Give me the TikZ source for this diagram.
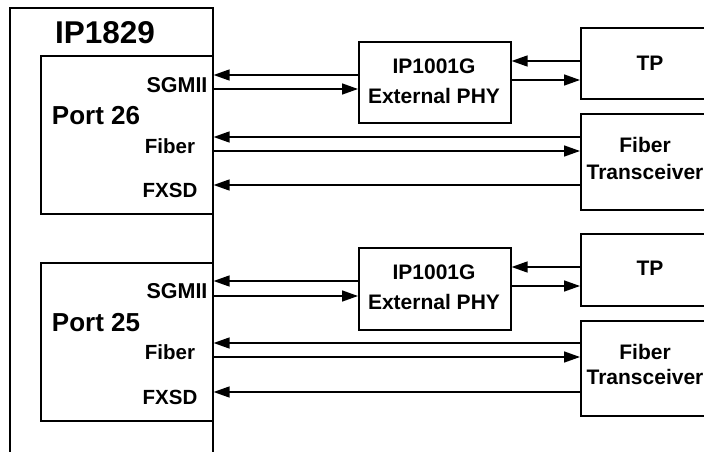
\documentclass[tikz,border=0pt]{standalone}
\usepackage{fontspec}
\setmainfont{Liberation Sans}
\usetikzlibrary{arrows.meta}
\begin{document}
\begin{tikzpicture}[x=1pt,y=-1pt,
  box/.style={draw, line width=1.6pt, inner sep=0pt, anchor=north west},
  arr/.style={line width=1.5pt, -{Triangle[length=16pt,width=11pt]}},
  lbl/.style={font=\fontsize{20.5}{22}\selectfont\bfseries, inner sep=0pt},
  rlbl/.style={font=\fontsize{21}{30}\selectfont\bfseries, inner sep=0pt, align=center},
  portlbl/.style={font=\fontsize{26}{30}\selectfont\bfseries, inner sep=0pt},
  titlelbl/.style={font=\fontsize{31.5}{36}\selectfont\bfseries, inner sep=0pt}]
\useasboundingbox (0,0) rectangle (704,452);
\clip (0,0) rectangle (704,452);
% main chip
\node[box, minimum width=203pt, minimum height=470pt] (ip) at (9,7) {};
\node[titlelbl] (iptxt) at (105,33) {IP1829};
% ports
\node[box, minimum width=172pt, minimum height=158pt] (p26) at (40,55) {};
\node[box, minimum width=172pt, minimum height=158pt] (p25) at (40,262) {};
\node[portlbl] (p26txt) at (96,116) {Port 26};
\node[portlbl] (p25txt) at (96,323) {Port 25};
\node[lbl, font=\fontsize{21.5}{22}\selectfont\bfseries] (sg1) at (177,85) {SGMII};
\node[lbl] (fb1) at (170,146) {Fiber};
\node[lbl] (fs1) at (170,190) {FXSD};
\node[lbl, font=\fontsize{21.5}{22}\selectfont\bfseries] (sg2) at (177,291) {SGMII};
\node[lbl] (fb2) at (170,352) {Fiber};
\node[lbl] (fs2) at (170,397) {FXSD};
% PHYs
\node[box, minimum width=152pt, minimum height=81pt] (phy1) at (358,41) {};
\node[box, minimum width=152pt, minimum height=82pt] (phy2) at (358,247) {};
\node[rlbl] (phy1txt) at (434,81) {IP1001G\\External PHY};
\node[rlbl] (phy2txt) at (434,287.5) {IP1001G\\External PHY};
% TP
\node[box, minimum width=140pt, minimum height=71pt] (tp1) at (580,27) {};
\node[box, minimum width=140pt, minimum height=72pt] (tp2) at (580,233) {};
\node[rlbl] (tp1txt) at (650,63) {TP};
\node[rlbl] (tp2txt) at (650,268) {TP};
% Fiber transceivers
\node[box, minimum width=140pt, minimum height=96pt] (fx1) at (580,113) {};
\node[box, minimum width=140pt, minimum height=95pt] (fx2) at (580,320) {};
\node[rlbl, font=\fontsize{21}{26.5}\selectfont\bfseries] (fx1txt) at (645,158.5) {Fiber\\Transceiver};
\node[rlbl, font=\fontsize{21}{25}\selectfont\bfseries] (fx2txt) at (645,364) {Fiber\\Transceiver};
% connectors, top
\draw[arr] (phy1.west |- 0,75) -- (p26.east |- 0,75);
\draw[arr] (p26.east |- 0,89) -- (phy1.west |- 0,89);
\draw[arr] (tp1.west |- 0,61) -- (phy1.east |- 0,61);
\draw[arr] (phy1.east |- 0,80) -- (tp1.west |- 0,80);
\draw[arr] (fx1.west |- 0,137) -- (p26.east |- 0,137);
\draw[arr] (p26.east |- 0,151) -- (fx1.west |- 0,151);
\draw[arr] (fx1.west |- 0,185) -- (p26.east |- 0,185);
% connectors, bottom
\draw[arr] (phy2.west |- 0,281) -- (p25.east |- 0,281);
\draw[arr] (p25.east |- 0,296) -- (phy2.west |- 0,296);
\draw[arr] (tp2.west |- 0,267) -- (phy2.east |- 0,267);
\draw[arr] (phy2.east |- 0,286) -- (tp2.west |- 0,286);
\draw[arr] (fx2.west |- 0,343) -- (p25.east |- 0,343);
\draw[arr] (p25.east |- 0,357) -- (fx2.west |- 0,357);
\draw[arr] (fx2.west |- 0,392) -- (p25.east |- 0,392);
\end{tikzpicture}
\end{document}
